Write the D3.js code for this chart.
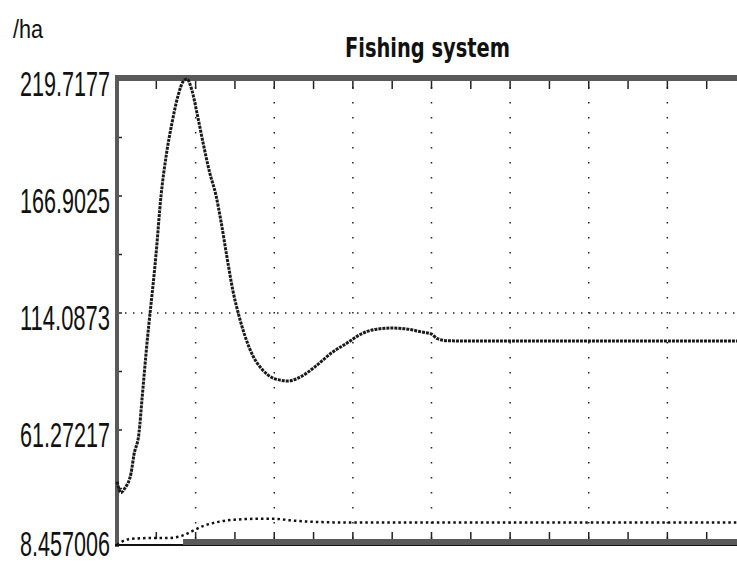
<!DOCTYPE html>
<html>
<head>
<meta charset="utf-8">
<script src="https://cdn.jsdelivr.net/npm/d3@7"></script>
<style>
  body { margin: 0; background: #fff; }
  svg { display: block; }
  .tick-label { font-family: "Liberation Sans", Arial, sans-serif; fill: #111; }
</style>
</head>
<body>
<svg id="chart"></svg>
<script>
// y axis tick labels (values as printed)
var yTicks = [8.457006, 61.27217, 114.0873, 166.9025, 219.7177];
var yLabels = ["8.457006", "61.27217", "114.0873", "166.9025", "219.7177"];

// time axis: ticks every unit, dotted grid every 2 units
var xTicks = d3.range(1, 16);
var xGrid = [2, 4, 6, 8, 10, 12, 14];

// fish stock (upper curve)
var stockTime = [0, 0.1, 0.2, 0.36, 0.43, 0.56, 0.64, 0.75, 0.99, 1.12, 1.25, 1.4, 1.55, 1.7, 1.78,
                 1.9, 2.05, 2.2, 2.35, 2.52, 2.65, 2.8, 2.95, 3.1, 3.25, 3.45, 3.7, 4.0, 4.35, 4.7,
                 5.05, 5.45, 5.85, 6.2, 6.6, 7.0, 7.4, 7.75, 8.0, 8.15, 8.4, 9, 10, 11, 12, 13, 14, 15, 16];
var stockValue = [38, 33, 35, 42, 50, 60, 76, 98, 140, 167, 185, 200, 212, 219, 219.7,
                  215, 203, 190, 178, 167, 155, 139, 124, 113, 104, 95, 88.5, 84.5, 83.4, 85.6,
                  90, 96, 100.5, 104.5, 106.8, 107.3, 106.8, 105.5, 104.6, 102.5, 101.6, 101.4, 101.4, 101.4, 101.4, 101.4, 101.4, 101.4, 101.4];

// catch (lower curve)
var catchTime = [0, 0.3, 0.8, 1.3, 1.65, 1.9, 2.2, 2.5, 3.0, 3.6, 4.0, 4.4, 5.0, 6, 8, 10, 12, 14, 16];
var catchValue = [9.4, 12, 12.5, 12.5, 13.5, 15.5, 18, 19.5, 20.8, 21.2, 21.2, 20.5, 19.8, 19.5, 19.5, 19.5, 19.5, 19.5, 19.5];

var width = 737, height = 565;

var svg = d3.select("#chart")
    .attr("width", width)
    .attr("height", height);

var x = d3.scaleLinear().domain([0, 16]).range([117, 746]);
var y = d3.scaleLinear().domain([8.457006, 219.7177]).range([547, 79]);

// "/ha" unit label
svg.append("text")
    .attr("x", 13).attr("y", 38)
    .attr("textLength", 30).attr("lengthAdjust", "spacingAndGlyphs")
    .style("font-family", "Liberation Sans, Arial, sans-serif")
    .style("font-size", "25px")
    .style("fill", "#111")
    .text("/ha");

// title
svg.append("text")
    .attr("x", 345).attr("y", 57)
    .attr("textLength", 165).attr("lengthAdjust", "spacingAndGlyphs")
    .style("font-family", "DejaVu Sans Condensed, DejaVu Sans, sans-serif")
    .style("font-weight", "bold")
    .style("font-size", "27px")
    .style("fill", "#111")
    .text("Fishing system");

// grid
var grid = svg.append("g").attr("class", "grid");

grid.selectAll(".vgrid")
    .data(xGrid)
    .enter()
    .append("line")
    .attr("class", "vgrid")
    .attr("x1", function(d){ return x(d) }).attr("x2", function(d){ return x(d) })
    .attr("y1", y(219.7177) + 8).attr("y2", y(8.457006) - 6)
    .attr("stroke", "#222")
    .attr("stroke-width", 1.5)
    .attr("stroke-dasharray", "1.5,13.5");

grid.append("line")
    .attr("x1", x(0)).attr("x2", width)
    .attr("y1", y(114.0873)).attr("y2", y(114.0873))
    .attr("stroke", "#222")
    .attr("stroke-width", 1.5)
    .attr("stroke-dasharray", "1.5,6.5");

// frame bars
var frameColor = "#5a5a5a";
svg.append("rect")
    .attr("x", x(0) - 2).attr("y", y(219.7177) - 4)
    .attr("width", width).attr("height", 6)
    .attr("fill", frameColor);
svg.append("rect")
    .attr("x", x(0) - 2).attr("y", y(219.7177) - 4)
    .attr("width", 4).attr("height", y(8.457006) - y(219.7177) + 4)
    .attr("fill", frameColor);
svg.append("rect")
    .attr("x", x(0) - 2).attr("y", y(8.457006) - 3)
    .attr("width", width).attr("height", 2)
    .attr("fill", "#111");
svg.append("rect")
    .attr("x", x(1.68)).attr("y", y(8.457006) - 8)
    .attr("width", width).attr("height", 6)
    .attr("fill", frameColor);

// top and bottom ticks
svg.append("g")
    .selectAll("line")
    .data(xTicks)
    .enter()
    .append("line")
    .attr("x1", function(d){ return x(d) }).attr("x2", function(d){ return x(d) })
    .attr("y1", y(219.7177) + 2).attr("y2", y(219.7177) + 10)
    .attr("stroke", "#222").attr("stroke-width", 1.5);

svg.append("g")
    .selectAll("line")
    .data(xTicks)
    .enter()
    .append("line")
    .attr("x1", function(d){ return x(d) }).attr("x2", function(d){ return x(d) })
    .attr("y1", y(8.457006) - 8).attr("y2", y(8.457006) - 15)
    .attr("stroke", "#222").attr("stroke-width", 1.5);

// left ticks: major and half steps
var leftTicks = d3.range(0, 9).map(function(i){ return 8.457006 + i * (219.7177 - 8.457006) / 8 });
svg.append("g")
    .selectAll("line")
    .data(leftTicks.slice(1, 8))
    .enter()
    .append("line")
    .attr("x1", x(0) + 2).attr("x2", x(0) + 5)
    .attr("y1", function(d){ return y(d) }).attr("y2", function(d){ return y(d) })
    .attr("stroke", "#222").attr("stroke-width", 1.5);

// y labels
svg.append("g")
    .selectAll("text")
    .data(yTicks)
    .enter()
    .append("text")
    .attr("class", "tick-label")
    .attr("x", 20)
    .attr("y", function(d){ return Math.min(y(d) + 17, 556) })
    .attr("textLength", 90)
    .attr("lengthAdjust", "spacingAndGlyphs")
    .style("font-size", "35px")
    .text(function(d, i){ return yLabels[i] });

// series
var stockData = stockTime.map(function(t, i){ return [t, stockValue[i]] });
var catchData = catchTime.map(function(t, i){ return [t, catchValue[i]] });

var line = d3.line()
    .x(function(d){ return x(d[0]) })
    .y(function(d){ return y(d[1]) })
    .curve(d3.curveMonotoneX);

svg.append("path")
    .datum(stockData)
    .attr("d", line)
    .attr("fill", "none")
    .attr("stroke", "#1a1a1a")
    .attr("stroke-width", 3)
    .attr("stroke-dasharray", "3,1");

svg.append("path")
    .datum(catchData)
    .attr("d", line)
    .attr("fill", "none")
    .attr("stroke", "#111")
    .attr("stroke-width", 2.5)
    .attr("stroke-dasharray", "2.5,3");
</script>
</body>
</html>
